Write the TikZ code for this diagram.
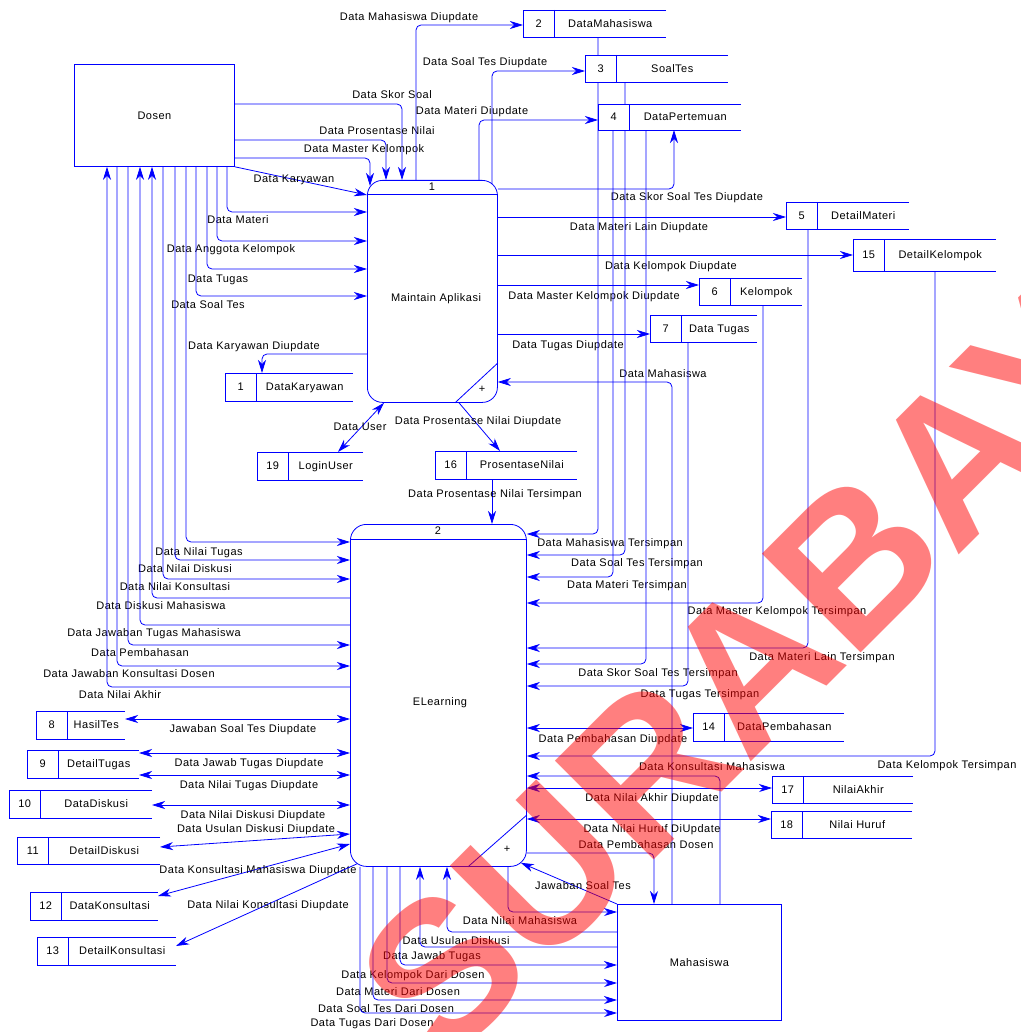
\documentclass[tikz,border=0pt]{standalone}
\usepackage{fontspec}
\setmainfont{Liberation Sans}[LetterSpace=4.5]
\newfontfamily\markfont{Liberation Sans}
\usetikzlibrary{arrows.meta, calc}
\definecolor{dfdblue}{RGB}{0,0,255}
\definecolor{markred}{RGB}{255,0,0}
\pgfdeclarelayer{paper}
\pgfdeclarelayer{flows}
\pgfdeclarelayer{mark}
\pgfsetlayers{paper,flows,main,mark}
\tikzset{
x=1pt, y=-1pt, % pixel grid, y grows downwards
>={Stealth[length=13pt,width=8pt,inset=4pt]}, % narrow arrow heads
lbl/.style={font=\fontsize{11}{13}\selectfont, inner sep=0pt, text height=7.9pt, text depth=0pt}, % flow and box texts
shape line/.style={draw=dfdblue, line width=0.8pt},
flow/.style={draw=dfdblue, line width=0.8pt, rounded corners=5pt}, % data flows
entity/.style={shape line, fill=white, inner sep=0pt, anchor=north west},
process/.style={shape line, fill=white, rounded corners=15pt, inner sep=0pt, anchor=north west},
store/.style={fill=white, inner sep=0pt, outer sep=0pt, anchor=north west},
}
% data store: name, left, top, right, height, number, label
\newcommand{\dstore}[7]{%
  \node[store, minimum width={(#4)-(#2)}, minimum height=#5] (#1) at (#2,#3) {};
  \draw[shape line] (#1.north east) -- (#1.north west) -- (#1.south west) -- (#1.south east);
  \draw[shape line] ({#2+31.5},#3) -- ({#2+31.5},{#3+#5});
  \node[lbl] (#1-num) at ({#2+15.75},{#3+#5/2}) {#6};
  \node[lbl] (#1-name) at ({(#2+31.5+#4)/2},{#3+#5/2}) {#7};
}

\begin{document}
\begin{tikzpicture}
\begin{pgfonlayer}{paper}
\fill[white] (0,0) rectangle (1020,1032);
\end{pgfonlayer}
\useasboundingbox (0,0) rectangle (1020,1032);

% external entities
\node[entity, minimum width=160, minimum height=102] (dosen) at (74,64) {};
\node[lbl] (dosen-name) at (dosen.center) {Dosen};
\node[entity, minimum width=164, minimum height=116] (mhs) at (617,904) {};
\node[lbl] (mhs-name) at (mhs.center) {Mahasiswa};

% processes
\node[process, minimum width=130, minimum height=222] (p1) at (367,180) {};
\draw[shape line] (p1.west |- 0,194) -- (p1.east |- 0,194);
\draw[shape line] (p1.south -| 455,0) -- (p1.east |- 0,363);
\node[lbl] (p1-num) at (432,187) {1};
\node[lbl] (p1-name) at (436,298) {Maintain Aplikasi};
\node[lbl] (p1-plus) at (482,389) {+};

\node[process, rounded corners=16pt, minimum width=176, minimum height=342] (p2) at (350,524) {};
\draw[shape line] (p2.west |- 0,539) -- (p2.east |- 0,539);
\draw[shape line] (p2.south -| 468,0) -- (p2.east |- 0,815);
\node[lbl] (p2-num) at (438,531) {2};
\node[lbl] (p2-name) at (440,702) {ELearning};
\node[lbl] (p2-plus) at (507,849) {+};

% data stores
\dstore{s1}{225}{373}{353}{28}{1}{DataKaryawan}
\dstore{s2}{523}{10}{666}{27}{2}{DataMahasiswa}
\dstore{s3}{585}{55}{728}{27}{3}{SoalTes}
\dstore{s4}{598}{104}{741}{26}{4}{DataPertemuan}
\dstore{s5}{786}{202}{909}{27}{5}{DetailMateri}
\dstore{s6}{699}{278}{802}{27}{6}{Kelompok}
\dstore{s7}{650}{315}{757}{27}{7}{Data Tugas}
\dstore{s8}{36}{711}{125}{28}{8}{HasilTes}
\dstore{s9}{27}{750}{139}{28}{9}{DetailTugas}
\dstore{s10}{9}{790}{152}{28}{10}{DataDiskusi}
\dstore{s11}{17}{837}{160}{27}{11}{DetailDiskusi}
\dstore{s12}{30}{892}{158}{28}{12}{DataKonsultasi}
\dstore{s13}{37}{937}{176}{28}{13}{DetailKonsultasi}
\dstore{s14}{693}{713}{844}{28}{14}{DataPembahasan}
\dstore{s15}{853}{239}{996}{32}{15}{DetailKelompok}
\dstore{s16}{435}{451}{577}{28}{16}{ProsentaseNilai}
\dstore{s17}{772}{776}{913}{27}{17}{NilaiAkhir}
\dstore{s18}{771}{811}{912}{27}{18}{Nilai Huruf}
\dstore{s19}{257}{452}{363}{28}{19}{LoginUser}

\begin{pgfonlayer}{flows}
% Dosen -> Maintain Aplikasi
\draw[flow,->] (dosen.east |- 0,104) -| (p1.north -| 402,0) node[lbl] at (392,95) {Data Skor Soal};
\draw[flow,->] (dosen.east |- 0,140) -| (p1.north -| 386,0) node[lbl] at (377,131) {Data Prosentase Nilai};
\draw[flow,->] (dosen.east |- 0,158) -| ($(p1.north -| 370,0)+(0,6)$) node[lbl] at (364,149) {Data Master Kelompok};
\draw[flow,->] (dosen.south east) -- (p1.west |- 0,195) node[lbl] at (294,179) {Data Karyawan};
\draw[flow,->] (dosen.south -| 227,0) |- (p1.west |- 0,212) node[lbl] at (238,220) {Data Materi};
\draw[flow,->] (dosen.south -| 217,0) |- (p1.west |- 0,241) node[lbl] at (231,249) {Data Anggota Kelompok};
\draw[flow,->] (dosen.south -| 207,0) |- (p1.west |- 0,269) node[lbl] at (218,279) {Data Tugas};
\draw[flow,->] (dosen.south -| 196,0) |- (p1.west |- 0,296) node[lbl] at (208,305) {Data Soal Tes};
% Dosen <-> ELearning
\draw[flow,->] (dosen.south -| 186,0) |- (p2.west |- 0,542) node[lbl] at (199,552) {Data Nilai Tugas};
\draw[flow,->] (dosen.south -| 175,0) |- (p2.west |- 0,560) node[lbl] at (185,569) {Data Nilai Diskusi};
\draw[flow,->] (dosen.south -| 163,0) |- (p2.west |- 0,579) node[lbl] at (175,587) {Data Nilai Konsultasi};
\draw[flow,->] (p2.west |- 0,598) -| (dosen.south -| 152,0) node[lbl] at (161,606) {Data Diskusi Mahasiswa};
\draw[flow,->] (p2.west |- 0,625) -| (dosen.south -| 140,0) node[lbl] at (154,633) {Data Jawaban Tugas Mahasiswa};
\draw[flow,->] (dosen.south -| 128,0) |- (p2.west |- 0,645) node[lbl] at (140,653) {Data Pembahasan};
\draw[flow,->] (dosen.south -| 117,0) |- (p2.west |- 0,666) node[lbl] at (129,674) {Data Jawaban Konsultasi Dosen};
\draw[flow,->] (p2.west |- 0,687) -| (dosen.south -| 107,0) node[lbl] at (120,695) {Data Nilai Akhir};
% Maintain Aplikasi <-> stores
\draw[flow,->] (p1.west |- 0,354) -| (s1.north -| 262,0) node[lbl] at (254,346) {Data Karyawan Diupdate};
\draw[flow,<->] (s19.north -| 338,0) -- (p1.south -| 384,0) node[lbl] at (360,427) {Data User};
\draw[flow,->] (p1.south -| 459,0) -- (s16.north -| 500,0) node[lbl] at (478,421) {Data Prosentase Nilai Diupdate};
\draw[flow,->] (s16.south -| 492,0) -- (p2.north -| 492,0) node[lbl] at (495,494) {Data Prosentase Nilai Tersimpan};
\draw[flow,->] (p1.north -| 416,0) |- (s2.west |- 0,25) node[lbl] at (409,17) {Data Mahasiswa Diupdate};
\draw[flow,->] ($(p1.north -| 492,0)+(0,4)$) |- (s3.west |- 0,71) node[lbl] at (485,62) {Data Soal Tes Diupdate};
\draw[flow,->] (p1.north -| 479,0) |- (s4.west |- 0,120) node[lbl] at (472,111) {Data Materi Diupdate};
\draw[flow,->] (p1.east |- 0,189) -| (s4.south -| 674,0) node[lbl] at (687,197) {Data Skor Soal Tes Diupdate};
\draw[flow,->] (p1.east |- 0,217) -- (s5.west |- 0,217) node[lbl] at (639,227) {Data Materi Lain Diupdate};
\draw[flow,->] (p1.east |- 0,255) -- (s15.west |- 0,255) node[lbl] at (671,266) {Data Kelompok Diupdate};
\draw[flow,->] (p1.east |- 0,285) -- (s6.west |- 0,285) node[lbl] at (594,296) {Data Master Kelompok Diupdate};
\draw[flow,->] (p1.east |- 0,334) -- (s7.west |- 0,334) node[lbl] at (568,345) {Data Tugas Diupdate};
\draw[flow,->] (mhs.north -| 672,0) |- (p1.east |- 0,382) node[lbl] at (663,374) {Data Mahasiswa};
% stores -> ELearning
\draw[flow,->] (s2.south -| 598,0) |- (p2.east |- 0,534) node[lbl] at (610,543) {Data Mahasiswa Tersimpan};
\draw[flow,->] (s3.south -| 625,0) |- (p2.east |- 0,555) node[lbl] at (637,563) {Data Soal Tes Tersimpan};
\draw[flow,->] (s4.south -| 613,0) |- (p2.east |- 0,577) node[lbl] at (627,585) {Data Materi Tersimpan};
\draw[flow,->] (s6.south -| 763,0) |- (p2.east |- 0,603) node[lbl] at (777,611) {Data Master Kelompok Tersimpan};
\draw[flow,->] (s5.south -| 808,0) |- (p2.east |- 0,648) node[lbl] at (822,657) {Data Materi Lain Tersimpan};
\draw[flow,->] (s4.south -| 646,0) |- (p2.east |- 0,664) node[lbl] at (658,673) {Data Skor Soal Tes Tersimpan};
\draw[flow,->] (s7.south -| 688,0) |- (p2.east |- 0,686) node[lbl] at (700,694) {Data Tugas Tersimpan};
\draw[flow,<->] (p2.east |- 0,728) -- (s14.west |- 0,728) node[lbl] at (613,739) {Data Pembahasan Diupdate};
\draw[flow,->] (s15.south -| 935,0) |- (p2.east |- 0,756) node[lbl] at (947,765) {Data Kelompok Tersimpan};
\draw[flow,->] (mhs.north -| 720,0) |- (p2.east |- 0,776) node[lbl] at (712,767) {Data Konsultasi Mahasiswa};
\draw[flow,<->] (p2.east |- 0,788) -- (s17.west |- 0,788) node[lbl] at (652,798) {Data Nilai Akhir Diupdate};
\draw[flow,<->] (p2.east |- 0,819) -- (s18.west |- 0,819) node[lbl] at (652,829) {Data Nilai Huruf DiUpdate};
\draw[flow,->] (p2.east |- 0,853) -| (mhs.north -| 654,0) node[lbl] at (646,845) {Data Pembahasan Dosen};
\draw[flow,->] (mhs.north west) -- ($(p2.south east)+(-6,-4)$) node[lbl] at (583,886) {Jawaban Soal Tes};
% ELearning <-> Mahasiswa
\draw[flow,->] (p2.south -| 508,0) |- (mhs.west |- 0,912) node[lbl] at (520,921) {Data Nilai Mahasiswa};
\draw[flow,->] (mhs.west |- 0,932) -| (p2.south -| 447,0) node[lbl] at (456,941) {Data Usulan Diskusi};
\draw[flow,->] (mhs.west |- 0,947) -| (p2.south -| 420,0) node[lbl] at (432,956) {Data Jawab Tugas};
\draw[flow,->] (p2.south -| 400,0) |- (mhs.west |- 0,965) node[lbl] at (413,975) {Data Kelompok Dari Dosen};
\draw[flow,->] (p2.south -| 387,0) |- (mhs.west |- 0,983) node[lbl] at (398,992) {Data Materi Dari Dosen};
\draw[flow,->] (p2.south -| 373,0) |- (mhs.west |- 0,1000) node[lbl] at (386,1009) {Data Soal Tes Dari Dosen};
\draw[flow,->] (p2.south -| 360,0) |- (mhs.west |- 0,1013) node[lbl] at (372,1023) {Data Tugas Dari Dosen};
% ELearning <-> left stores
\draw[flow,<->] (s8.east |- 0,719) -- (p2.west |- 0,719) node[lbl] at (243,729) {Jawaban Soal Tes Diupdate};
\draw[flow,<->] (s9.east |- 0,753) -- (p2.west |- 0,753) node[lbl] at (249,763) {Data Jawab Tugas Diupdate};
\draw[flow,<->] (s9.east |- 0,775) -- (p2.west |- 0,775) node[lbl] at (249,785) {Data Nilai Tugas Diupdate};
\draw[flow,<->] (s10.east |- 0,805) -- (p2.west |- 0,805) node[lbl] at (253,815) {Data Nilai Diskusi Diupdate};
\draw[flow,<->] (s11.east |- 0,847) -- (p2.west |- 0,834) node[lbl] at (256,829) {Data Usulan Diskusi Diupdate};
\draw[flow,<->] (s12.east |- 0,896) -- (p2.west |- 0,844) node[lbl] at (258,870) {Data Konsultasi Mahasiswa Diupdate};
\draw[flow,->] ($(p2.south west)+(7,-3)$) -- (s13.east |- 0,946) node[lbl] at (268,905) {Data Nilai Konsultasi Diupdate};
\end{pgfonlayer}

% watermark
\begin{pgfonlayer}{mark}
\begin{scope}
\clip (0,0) rectangle (1020,1032);
\node[text=markred, opacity=0.5, rotate=45, inner sep=0pt, font=\markfont\bfseries\fontsize{203}{203}\selectfont] (watermark) at (789,626) {SURABAYA};
\end{scope}
\end{pgfonlayer}
\end{tikzpicture}
\end{document}
